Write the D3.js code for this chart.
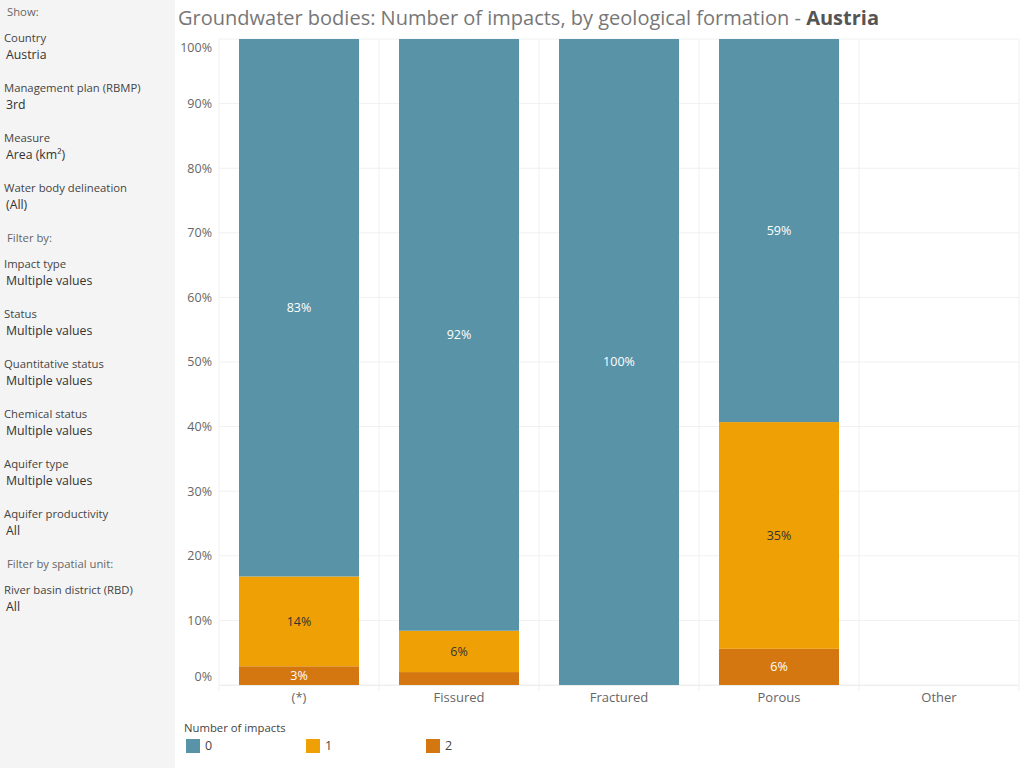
<!DOCTYPE html>
<html>
<head>
<meta charset="utf-8">
<script src="https://cdn.jsdelivr.net/npm/d3@7"></script>
<style>
  html, body { margin: 0; padding: 0; background: #fff; }
  body { width: 1024px; height: 768px; overflow: hidden; font-family: "Open Sans", Lato, sans-serif; }
</style>
</head>
<body>
<svg id="chart" width="1024" height="768"></svg>
<script>
// ---- data ----
const categories = ["(*)", "Fissured", "Fractured", "Porous", "Other"];
const impactKeys = ["0", "1", "2"];
const share0 = [83.2, 91.6, 100, 59.3, 0];
const share1 = [13.9, 6.4, 0, 35.1, 0];
const share2 = [2.9, 2.0, 0, 5.6, 0];
const yTicks = [0, 10, 20, 30, 40, 50, 60, 70, 80, 90, 100];
const impactColors = ["#5893a8", "#efa005", "#d47711"];
const labelColors = ["#ffffff", "#333333", "#ffffff"];

const sidebarItems = [
  { type: "header", text: "Show:" },
  { type: "field", label: "Country", value: "Austria" },
  { type: "field", label: "Management plan (RBMP)", value: "3rd" },
  { type: "field", label: "Measure", value: "Area (km²)" },
  { type: "field", label: "Water body delineation", value: "(All)" },
  { type: "header", text: "Filter by:" },
  { type: "field", label: "Impact type", value: "Multiple values" },
  { type: "field", label: "Status", value: "Multiple values" },
  { type: "field", label: "Quantitative status", value: "Multiple values" },
  { type: "field", label: "Chemical status", value: "Multiple values" },
  { type: "field", label: "Aquifer type", value: "Multiple values" },
  { type: "field", label: "Aquifer productivity", value: "All" },
  { type: "header", text: "Filter by spatial unit:" },
  { type: "field", label: "River basin district (RBD)", value: "All" }
];

const svg = d3.select("#chart");

// ---- sidebar ----
svg.append("rect").attr("x", 0).attr("y", 0).attr("width", 175).attr("height", 768).attr("fill", "#f4f4f4");
let sy = 12;
const sb = svg.append("g");
sidebarItems.forEach(it => {
  if (it.type === "header") {
    sb.append("text").attr("x", 7).attr("y", sy).attr("dy", "0.35em")
      .attr("font-size", 11.3).attr("fill", "#666").text(it.text);
    sy += 26;
  } else {
    sb.append("text").attr("x", 4).attr("y", sy).attr("dy", "0.35em")
      .attr("font-size", 11.3).attr("fill", "#444").text(it.label);
    sb.append("text").attr("x", 6).attr("y", sy + 17).attr("dy", "0.35em")
      .attr("font-size", 12.3).attr("fill", "#333").text(it.value);
    sy += 50;
  }
});

// ---- title ----
const title = svg.append("text").attr("x", 178).attr("y", 25).attr("font-size", 20).attr("fill", "#777");
title.append("tspan").text("Groundwater bodies: Number of impacts, by geological formation - ");
title.append("tspan").attr("font-weight", "bold").attr("fill", "#555").text("Austria");

// ---- scales ----
const x = d3.scaleBand().domain(categories).range([219, 1019]).paddingInner(0.25).paddingOuter(0.125);
const y = d3.scaleLinear().domain([0, 100]).range([685, 39]);

const rows = categories.map((c, i) => ({ cat: c, "0": share0[i], "1": share1[i], "2": share2[i] }));
const stack = d3.stack().keys(["2", "1", "0"]);
const series = stack(rows);

// gridlines
const grid = svg.append("g");
grid.selectAll("line.h").data(yTicks).join("line")
  .attr("x1", 219).attr("x2", 1019)
  .attr("y1", d => y(d)).attr("y2", d => y(d))
  .attr("stroke", "#f0f0f0").attr("stroke-width", 1);
const bounds = categories.map(c => x(c) - x.step() * x.paddingInner() / 2);
bounds.push(1019);
grid.selectAll("line.v").data(bounds).join("line")
  .attr("x1", d => d).attr("x2", d => d)
  .attr("y1", 39).attr("y2", 691)
  .attr("stroke", "#f0f0f0").attr("stroke-width", 1);

// y axis labels
svg.append("g").selectAll("text").data(yTicks).join("text")
  .attr("x", 212)
  .attr("y", d => d === 100 ? y(d) + 9 : d === 0 ? y(d) - 8 : y(d))
  .attr("dy", "0.35em")
  .attr("text-anchor", "end").attr("font-size", 12.5).attr("fill", "#666")
  .text(d => d + "%");

// bars
const barG = svg.append("g");
series.forEach(s => {
  const k = impactKeys.indexOf(s.key);
  barG.append("g").attr("fill", impactColors[k]).selectAll("rect").data(s).join("rect")
    .attr("x", d => x(d.data.cat))
    .attr("width", x.bandwidth())
    .attr("y", d => y(d[1]))
    .attr("height", d => y(d[0]) - y(d[1]));
  barG.append("g").selectAll("text").data(s.filter(d => d[1] - d[0] >= 2.5)).join("text")
    .attr("x", d => x(d.data.cat) + x.bandwidth() / 2)
    .attr("y", d => y((d[0] + d[1]) / 2))
    .attr("dy", "0.35em")
    .attr("text-anchor", "middle").attr("font-size", 12.5).attr("fill", labelColors[k])
    .text(d => Math.round(d[1] - d[0]) + "%");
});

// x axis baseline & labels
svg.append("line").attr("x1", 219).attr("x2", 1019).attr("y1", 685.5).attr("y2", 685.5).attr("stroke", "#eee");
svg.append("g").selectAll("text").data(categories).join("text")
  .attr("x", d => x(d) + x.bandwidth() / 2).attr("y", 697).attr("dy", "0.35em")
  .attr("text-anchor", "middle").attr("font-size", 13).attr("fill", "#666").text(d => d);

// legend
const lg = svg.append("g");
lg.append("text").attr("x", 184).attr("y", 728).attr("dy", "0.35em").attr("font-size", 11.3).attr("fill", "#444").text("Number of impacts");
const li = lg.selectAll("g.item").data(impactKeys).join("g").attr("transform", (d, i) => `translate(${186 + i * 120},739)`);
li.append("rect").attr("width", 14).attr("height", 14).attr("fill", (d, i) => impactColors[i]);
li.append("text").attr("x", 19).attr("y", 7).attr("dy", "0.35em").attr("font-size", 12.5).attr("fill", "#444").text(d => d);
</script>
</body>
</html>
